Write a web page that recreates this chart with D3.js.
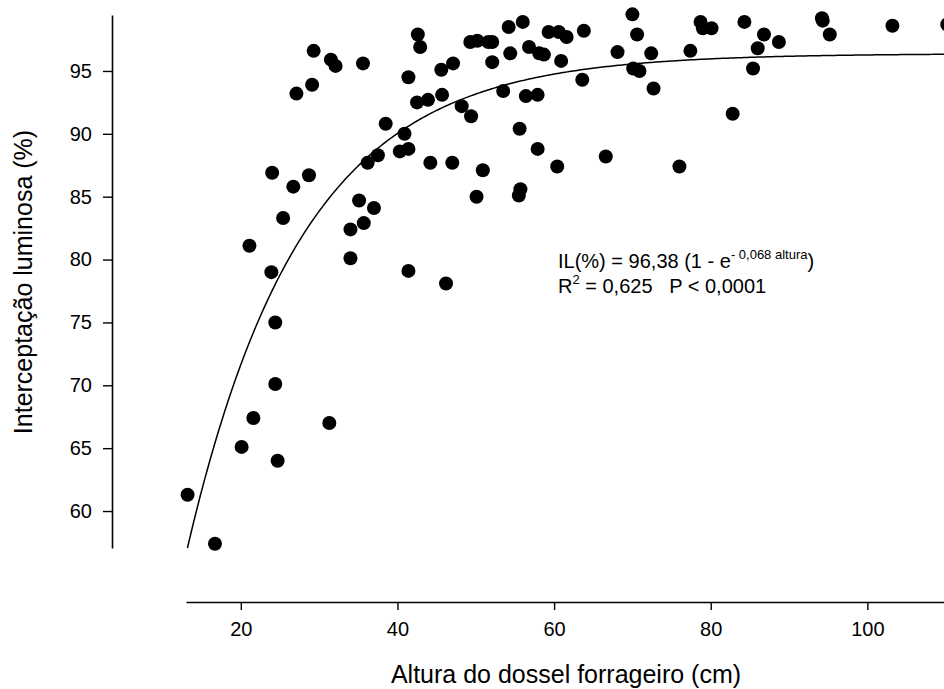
<!DOCTYPE html>
<html>
<head>
<meta charset="utf-8">
<script src="https://cdn.jsdelivr.net/npm/d3@7"></script>
<style>
  body { margin: 0; background: #fff; }
  svg { display: block; font-family: "Liberation Sans", Arial, sans-serif; }
</style>
</head>
<body>
<script>
// canopy height (cm) and light interception (%)
const altura = [
  29.3, 29.1, 27.1, 24.0, 26.7, 28.7, 25.4, 21.1, 23.9, 24.4,
  24.4, 21.6, 20.1, 24.7, 13.2, 16.7, 31.3, 31.5, 32.1, 35.6,
  42.6, 42.9, 41.4, 45.6, 47.1, 42.5, 43.9, 45.7, 48.2, 49.4,
  38.5, 40.9, 40.3, 41.4, 37.5, 36.2, 44.2, 47.0, 50.9, 35.1,
  37.0, 35.7, 34.0, 50.1, 55.7, 55.5, 55.6, 57.9, 60.4, 66.6,
  53.5, 56.4, 57.9, 63.6, 49.3, 50.2, 51.6, 52.1, 52.1, 54.2,
  56.0, 54.4, 56.8, 58.1, 58.7, 60.9, 59.3, 60.6, 61.6, 63.8,
  68.1, 70.0, 70.6, 72.4, 70.1, 70.9, 72.7, 76.0, 77.4, 78.7,
  79.0, 80.1, 84.3, 86.8, 86.0, 88.7, 85.4, 82.8, 94.2, 94.3,
  95.2, 103.2, 110.2, 34.0, 41.4, 46.2
];
const interceptacao = [
  96.6, 93.9, 93.2, 86.9, 85.8, 86.7, 83.3, 81.1, 79.0, 75.0,
  70.1, 67.4, 65.1, 64.0, 61.3, 57.4, 67.0, 95.9, 95.4, 95.6,
  97.9, 96.9, 94.5, 95.1, 95.6, 92.5, 92.7, 93.1, 92.2, 91.4,
  90.8, 90.0, 88.6, 88.8, 88.3, 87.7, 87.7, 87.7, 87.1, 84.7,
  84.1, 82.9, 82.4, 85.0, 85.6, 85.1, 90.4, 88.8, 87.4, 88.2,
  93.4, 93.0, 93.1, 94.3, 97.3, 97.4, 97.3, 97.3, 95.7, 98.5,
  98.9, 96.4, 96.9, 96.4, 96.3, 95.8, 98.1, 98.1, 97.7, 98.2,
  96.5, 99.5, 97.9, 96.4, 95.2, 95.0, 93.6, 87.4, 96.6, 98.9,
  98.4, 98.4, 98.9, 97.9, 96.8, 97.3, 95.2, 91.6, 99.2, 99.0,
  97.9, 98.6, 98.7, 80.1, 79.1, 78.1
];
const xTicks = [20, 40, 60, 80, 100];
const yTicks = [60, 65, 70, 75, 80, 85, 90, 95];

// fitted model: IL = a (1 - e^(-b * altura))
const fitA = 96.38;
const fitB = 0.068;

const width = 944;
const height = 689;

const svg = d3.select('body').append('svg')
  .attr('width', width)
  .attr('height', height);

const x = d3.scaleLinear().domain([13, 120]).range([186, 1024]);
const y = d3.scaleLinear().domain([57.06, 99.45]).range([548, 15]);

// y axis
const yAxis = svg.append('g')
  .attr('transform', 'translate(112,0)')
  .call(d3.axisLeft(y).tickValues(yTicks).tickSize(9).tickSizeOuter(0).tickPadding(11));

// x axis
const xAxis = svg.append('g')
  .attr('transform', 'translate(0,602)')
  .call(d3.axisBottom(x).tickValues(xTicks).tickSize(8).tickSizeOuter(0).tickPadding(12));

[yAxis, xAxis].forEach(g => {
  g.select('.domain').attr('stroke', '#000').attr('stroke-width', 1.6);
  g.selectAll('.tick line').attr('stroke', '#000').attr('stroke-width', 1.4);
  g.selectAll('.tick text')
    .attr('fill', '#000')
    .style('font-size', '20px')
    .style('font-family', '"Liberation Sans", Arial, sans-serif');
});

// axis titles
svg.append('text')
  .attr('x', 566)
  .attr('y', 683)
  .attr('text-anchor', 'middle')
  .style('font-size', '25px')
  .text('Altura do dossel forrageiro (cm)');

svg.append('text')
  .attr('transform', 'translate(32,282) rotate(-90)')
  .attr('text-anchor', 'middle')
  .style('font-size', '25px')
  .text('Interceptação luminosa (%)');

// fitted curve
const h0 = -Math.log(1 - y.domain()[0] / fitA) / fitB;
const curveX = d3.range(h0, 120, 0.25);
const line = d3.line()
  .x(d => x(d))
  .y(d => y(fitA * (1 - Math.exp(-fitB * d))));

svg.append('path')
  .datum(curveX)
  .attr('fill', 'none')
  .attr('stroke', '#000')
  .attr('stroke-width', 1.5)
  .attr('d', line);

// points
svg.append('g')
  .selectAll('circle')
  .data(altura.map((h, i) => [h, interceptacao[i]]))
  .join('circle')
  .attr('cx', d => x(d[0]))
  .attr('cy', d => y(d[1]))
  .attr('r', 7)
  .attr('fill', '#000');

// equation
const eq = svg.append('text')
  .attr('x', 558)
  .attr('y', 268)
  .style('font-size', '20px');
eq.append('tspan').text('IL(%) = 96,38 (1 - e');
eq.append('tspan').attr('dy', -9).style('font-size', '13px').text('- 0,068 altura');
eq.append('tspan').attr('dy', 9).text(')');

const r2 = svg.append('text')
  .attr('x', 558)
  .attr('y', 293)
  .style('font-size', '20px');
r2.append('tspan').text('R');
r2.append('tspan').attr('dy', -9).style('font-size', '13px').text('2');
r2.append('tspan').attr('dy', 9).text(' = 0,625\u00a0\u00a0\u00a0P < 0,0001');
</script>
</body>
</html>
